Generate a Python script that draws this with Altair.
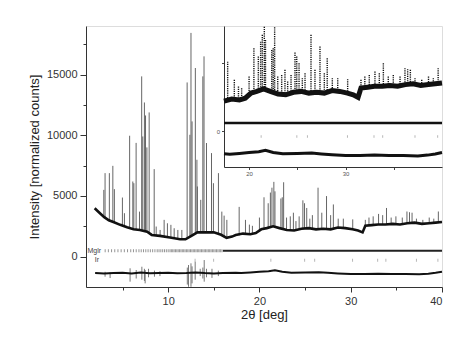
import altair as alt
import pandas as pd

# ---------------- data ----------------
# observed background (2theta, counts)
bg_pos = [1.95, 2.5, 3.0, 3.5, 4.0, 4.75, 5.5, 6.2, 6.9, 7.7, 8.2, 9.1, 10.2, 11.3, 11.9,
          12.5, 13.2, 14.0, 15.0, 15.8, 16.4, 17.0, 17.4, 18.2, 19.0, 19.6, 20.2, 20.8,
          21.5, 22.2, 23.0, 23.8, 24.6, 25.4, 26.2, 27.0, 27.8, 28.6, 29.4, 30.2, 30.8,
          31.3, 31.6, 32.3, 33.0, 33.8, 34.6, 35.4, 36.2, 37.0, 37.8, 38.6, 39.3, 40.0]
bg_val = [3990, 3600, 3250, 3000, 2850, 2620, 2420, 2260, 2200, 2060, 1790, 1710, 1570, 1430, 1430,
          1700, 2000, 2000, 2000, 1800, 1550, 1650, 1780, 1900, 1850, 1950, 2250, 2350,
          2500, 2350, 2200, 2150, 2300, 2350, 2250, 2300, 2250, 2400, 2350, 2250, 2150,
          2000, 2550, 2600, 2650, 2650, 2700, 2650, 2750, 2800, 2700, 2750, 2800, 2850]

# Bragg peaks: position, top intensity, background under the peak
peak_pos = [2.95, 3.09, 3.56, 3.94, 4.11, 4.99, 5.21, 5.78, 6.13, 6.24, 6.49, 6.86, 7.10, 7.22,
            7.40, 7.52, 7.67, 7.92, 8.47, 8.69, 9.12, 9.56, 9.92, 10.3, 10.66, 11.06, 11.5,
            12.08, 12.38, 12.5, 12.62, 12.98, 13.15, 13.2, 13.57, 13.8, 13.93, 14.2, 14.75,
            14.96, 15.51, 15.88, 16.13, 16.43,
            17.78, 18.47, 18.9, 19.23, 20.0, 20.5, 20.96, 21.2, 21.37, 21.58, 21.7, 22.35,
            22.5, 22.65, 22.97, 23.38, 23.72, 24.0, 24.35, 24.76, 24.94, 25.18, 25.52, 25.8,
            26.42, 26.83, 27.35, 27.8, 28.1, 28.63, 29.19, 30.22, 31.6, 32.0, 32.46, 33.05,
            33.5, 33.92, 34.43, 34.95, 35.65, 36.16, 36.44, 36.72, 37.2, 37.9, 38.6, 39.1, 39.6]
peak_top = [5500, 6880, 6880, 7480, 5560, 4870, 3580, 9960, 6190, 6050, 9370, 3710, 14850, 9900,
            12700, 11630, 9000, 11880, 7210, 2480, 2200, 3030, 2750, 2620, 2340, 2200, 2200,
            14350, 10040, 18430, 11140, 15540, 7980, 5780, 4680, 14850, 16500, 9360, 8530,
            6050, 6880, 3710, 3380, 3030,
            4100, 3030, 2640, 2540, 3220, 4890, 4400, 5280, 5680, 6160, 5380, 4790,
            4890, 6130, 3220, 3320, 3620, 2930, 3320, 4640, 4400, 4010, 3130, 3420,
            5680, 3620, 4990, 3420, 4300, 3130, 3130, 3070, 3030, 3220, 3320, 3520,
            3420, 4010, 3220, 3320, 3220, 3720, 3660, 3620, 3130, 3030, 3220, 3130, 3720]
peak_base = [3300, 3250, 3000, 2870, 2830, 2560, 2500, 2370, 2280, 2260, 2240, 2200, 2170, 2150,
             2120, 2100, 2060, 1950, 1780, 1760, 1710, 1650, 1600, 1560, 1500, 1460, 1430,
             1500, 1650, 1700, 1750, 1900, 2000, 2000, 2000, 2000, 2000, 2000, 2000,
             2000, 1850, 1700, 1600, 1550,
             1750, 1850, 1880, 1870, 2150, 2300, 2350, 2400, 2450, 2500, 2500, 2350,
             2330, 2300, 2220, 2180, 2150, 2200, 2250, 2300, 2320, 2340, 2350, 2300,
             2250, 2270, 2300, 2260, 2280, 2400, 2370, 2240, 2500, 2580, 2620, 2650,
             2650, 2650, 2680, 2690, 2660, 2720, 2740, 2760, 2790, 2720, 2750, 2780, 2820]

# difference curve (obs - calc, offset)
diff_pos = [2.0, 3.0, 4.0, 5.0, 6.0, 7.0, 8.0, 9.0, 10.0, 11.0, 12.0, 13.0, 14.0, 15.0, 16.0,
            17.4, 18.0, 19.0, 20.0, 21.0, 21.7, 22.5, 23.5, 25.0, 26.5, 27.5, 28.6, 30.0,
            31.5, 33.0, 34.5, 36.0, 37.5, 38.5, 39.3, 40.0]
diff_val = [-1350, -1380, -1350, -1330, -1380, -1300, -1370, -1350, -1330, -1370, -1350, -1300,
            -1350, -1380, -1340, -1320, -1350, -1300, -1250, -1200, -1120, -1250, -1320, -1300,
            -1280, -1330, -1380, -1430, -1420, -1400, -1430, -1420, -1450, -1400, -1330, -1250]
spike_pos = [3.09, 3.64, 5.83, 6.5, 7.12, 7.4, 7.48, 7.85, 8.5, 9.1, 12.1, 12.23, 12.5, 12.62,
             12.96, 13.51, 13.8, 13.95, 14.2, 14.8, 15.5]
spike_lo = [-1650, -1760, -2060, -1800, -1900, -2000, -2200, -1700, -1650, -1600, -2300, -2480,
            -2480, -2200, -1900, -1600, -1800, -2060, -1700, -1750, -1600]
spike_hi = [-1250, -1300, -960, -1100, -830, -1000, -1100, -1000, -1150, -1200, -900, -690,
            -550, -800, -410, -1000, -900, -280, -1000, -1000, -1150]

# reflection markers
mglr_pos = [3.1, 3.45, 3.8, 4.15, 4.5, 4.85, 5.2, 5.55, 5.9, 6.2, 6.5, 6.8, 7.05, 7.3, 7.55,
            7.8, 8.05, 8.3, 8.55, 8.8, 9.0, 9.2, 9.4, 9.6, 9.8, 10.0, 10.2, 10.35, 10.5, 10.65,
            10.8, 10.95, 11.1, 11.25, 11.4, 11.55, 11.7, 11.85, 12.0, 12.15, 12.3, 12.45, 12.6,
            12.75, 12.9, 13.05, 13.2, 13.35, 13.5, 13.65, 13.8, 13.95, 14.1, 14.25, 14.4, 14.55,
            14.7, 14.85, 15.0, 15.15, 15.3, 15.45, 15.6, 15.75, 15.9]
mglr_band = [16.0, 40.0]   # dense region where the markers merge into a band
mglr_level = 495
ir_pos = [12.95, 14.98, 21.25, 24.95, 26.05, 30.2, 32.95, 33.85, 37.2, 39.55]
ir_level = -300
label_text = ["Mglr", "Ir"]
label_x = [1.9, 2.2]
label_y = [495, -300]

main_x = [1, 40]
main_y = [-2500, 19000]
inset_x = [17.4, 40]
inset_y = [-2100, 6200]

# ---------------- tables ----------------
bg = pd.DataFrame({"pos": bg_pos, "val": bg_val})
peaks = pd.DataFrame({"pos": peak_pos, "top": peak_top, "base": peak_base})
diff = pd.DataFrame({"pos": diff_pos, "val": diff_val})
spikes = pd.DataFrame({"pos": spike_pos, "lo": spike_lo, "hi": spike_hi})
mglr = pd.DataFrame({"pos": mglr_pos, "lvl": [mglr_level] * len(mglr_pos)})
band_main = pd.DataFrame({"a": [mglr_band[0]], "b": [mglr_band[1]], "lvl": [mglr_level]})
band_inset = pd.DataFrame({"a": [max(mglr_band[0], inset_x[0])], "b": [mglr_band[1]], "lvl": [mglr_level]})
ir = pd.DataFrame({"pos": ir_pos, "lvl": [ir_level] * len(ir_pos)})
labels = pd.DataFrame({"t": label_text, "x": label_x, "y": label_y})

W, H = 356, 261
IL, IB = 138, 141   # inset left edge / bottom edge in plot pixels

TXT = "#333333"


def mx(field, axis=None):
    return alt.X(field, type="quantitative", scale=alt.Scale(domain=main_x, nice=False, zero=False), axis=axis)


def my(field, axis=None):
    return alt.Y(field, type="quantitative", scale=alt.Scale(domain=main_y, nice=False, zero=False), axis=axis)


def ix(field, axis=None):
    return alt.X(field, type="quantitative",
                 scale=alt.Scale(domain=inset_x, range=[IL, W], nice=False, zero=False), axis=axis)


def iy(field, axis=None):
    return alt.Y(field, type="quantitative",
                 scale=alt.Scale(domain=inset_y, range=[IB, 0], nice=False, zero=False), axis=axis)


x_axis = alt.Axis(values=[10, 20, 30, 40], format="d", title="2θ [deg]", tickSize=5,
                  labelFontSize=11, titleFontSize=13, titleFontWeight="normal",
                  labelPadding=3, titlePadding=2, labelColor=TXT, titleColor="#222222",
                  domainColor=TXT, tickColor=TXT, grid=False)
y_axis = alt.Axis(values=[0, 5000, 10000, 15000], format="d", title="Intensity [normalized counts]",
                  tickSize=6, labelFontSize=11, titleFontSize=13, titleFontWeight="normal",
                  labelPadding=3, titlePadding=5, labelColor=TXT, titleColor="#222222",
                  domainColor=TXT, tickColor=TXT, grid=False)
x_minor = alt.Axis(values=[5, 15, 25, 35], tickSize=3, labels=False, domain=False, title=None,
                   tickColor=TXT, grid=False, orient="bottom")
y_minor = alt.Axis(values=[2500, 7500, 12500, 17500], tickSize=3, labels=False, domain=False,
                   title=None, tickColor=TXT, grid=False, orient="left")

ix_axis = alt.Axis(values=[20, 25, 30, 35], labelExpr="datum.value % 10 == 0 ? datum.label : ''",
                   orient="bottom", offset=-(H - IB), tickSize=2.5, labelFontSize=6, labelPadding=1,
                   labelColor="#555555", tickColor="#444444", domainColor="#333333", title=None,
                   grid=False)
iy_axis = alt.Axis(values=[0, 4000], labelExpr="datum.value == 0 ? '0' : ''",
                   orient="left", offset=-IL, tickSize=2.5, labelFontSize=6, labelPadding=2,
                   labelColor="#555555", tickColor="#444444", domainColor="#333333", title=None,
                   grid=False)

# ---------------- main plot ----------------
m_peaks = alt.Chart(peaks).mark_rule(color="#555555", strokeWidth=0.9).encode(
    x=mx("pos", x_axis), y=my("top", y_axis), y2="base")
m_minor = alt.Chart(bg).mark_point(opacity=0).encode(x=mx("pos", x_minor), y=my("val", y_minor))
m_bg = alt.Chart(bg).mark_line(color="#111111", strokeWidth=2.6).encode(x=mx("pos"), y=my("val"))
m_spikes = alt.Chart(spikes).mark_rule(color="#555555", strokeWidth=0.8).encode(
    x=mx("pos"), y=my("lo"), y2="hi")
m_diff = alt.Chart(diff).mark_line(color="#111111", strokeWidth=2).encode(x=mx("pos"), y=my("val"))
m_mglr = alt.Chart(mglr).mark_tick(orient="vertical", color="#666666", size=3, thickness=1).encode(
    x=mx("pos"), y=my("lvl"))
m_band = alt.Chart(band_main).mark_rule(color="#222222", strokeWidth=2).encode(
    x=mx("a"), x2="b", y=my("lvl"))
m_ir = alt.Chart(ir).mark_tick(orient="vertical", color="#999999", size=3, thickness=1).encode(
    x=mx("pos"), y=my("lvl"))
m_lab = alt.Chart(labels).mark_text(fontSize=7, color="#444444", font="Liberation Sans").encode(
    x=mx("x"), y=my("y"), text="t:N")

# ---------------- inset ----------------
i_peaks = alt.Chart(peaks).transform_filter(f"datum.pos >= {inset_x[0]}").mark_rule(
    color="#111111", strokeWidth=1.4, strokeDash=[1.2, 1.0]).encode(
    x=ix("pos", ix_axis), y=iy("top", iy_axis), y2="base")
i_bg = alt.Chart(bg).transform_filter(f"datum.pos >= {inset_x[0]}").mark_line(
    color="#111111", strokeWidth=5).encode(x=ix("pos"), y=iy("val"))
i_diff = alt.Chart(diff).transform_filter(f"datum.pos >= {inset_x[0]}").mark_line(
    color="#111111", strokeWidth=3).encode(x=ix("pos"), y=iy("val"))
i_band = alt.Chart(band_inset).mark_rule(color="#111111", strokeWidth=2.5).encode(
    x=ix("a"), x2="b", y=iy("lvl"))
i_ir = alt.Chart(ir).transform_filter(f"datum.pos >= {inset_x[0]}").mark_tick(
    orient="vertical", color="#999999", size=2.5, thickness=1).encode(x=ix("pos"), y=iy("lvl"))

chart = alt.layer(
    m_peaks, m_minor, m_bg, m_spikes, m_diff, m_mglr, m_band, m_ir, m_lab,
    i_peaks, i_bg, i_diff, i_band, i_ir,
).resolve_scale(x="independent", y="independent").properties(
    width=W, height=H,
    autosize=alt.AutoSizeParams(type="none"),
    padding={"left": 78, "top": 18, "right": 25, "bottom": 50},
).configure_view(stroke="#333333", strokeWidth=1).configure(
    font="Liberation Sans", background="white")

chart.save("out.html", embed_options={"renderer": "svg", "actions": False})
